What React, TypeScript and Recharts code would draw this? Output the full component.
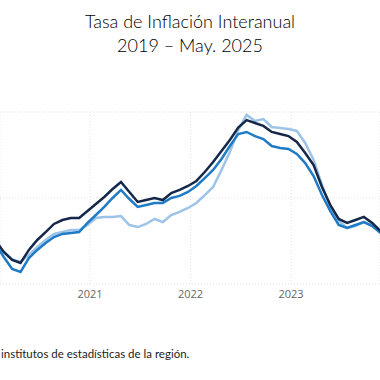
import React from 'react';
import { LineChart, Line, XAxis, YAxis, CartesianGrid } from 'recharts';

// monthly points, index 0 = Feb 2020 (visible window of the original chart)
const seriesDark = [
  2.56, 1.86, 1.4, 1.22, 1.98, 2.56, 3.02, 3.49, 3.72, 3.84, 3.84,
  4.24, 4.65, 5.06, 5.52, 5.93, 5.35, 4.77, 4.88, 5.0, 4.88, 5.29, 5.47,
  5.7, 5.99, 6.51, 7.09, 7.73, 8.37, 9.1, 9.53, 9.36, 9.19, 8.84, 8.72, 8.6,
  8.26, 7.62, 6.92, 5.64, 4.59, 3.78, 3.55, 3.72, 3.9, 3.55, 3.08,
];
const seriesMid = [
  2.33, 1.57, 0.87, 0.7, 1.51, 1.98, 2.38, 2.73, 2.91, 2.97, 3.02,
  3.55, 4.01, 4.48, 5.0, 5.47, 4.94, 4.48, 4.59, 4.71, 4.71, 5.0, 5.12,
  5.35, 5.7, 6.16, 6.63, 7.27, 8.02, 8.72, 8.84, 8.6, 8.43, 8.02, 7.91, 7.85,
  7.56, 7.03, 6.28, 5.17, 4.24, 3.43, 3.26, 3.43, 3.6, 3.37, 2.97,
];
const seriesLight = [
  2.33, 1.86, 1.45, 1.28, 1.69, 2.15, 2.56, 2.91, 3.02, 3.14, 3.14,
  3.43, 3.84, 3.9, 3.9, 3.95, 3.43, 3.31, 3.49, 3.78, 3.6, 4.01, 4.19,
  4.42, 4.71, 5.17, 5.64, 6.63, 7.67, 8.95, 9.83, 9.48, 9.59, 9.13, 9.07, 9.01,
  8.9, 8.2, 7.21, 5.76, 4.48, 3.66, 3.26, 3.37, 3.6, 3.43, 2.97,
];

const yearTicks = [12.3, 24.3, 36.3];
const yearLabels = ['2021', '2022', '2023'];
const valueTicks = [0, 5, 10];

const data = seriesDark.map((v, i) => ({
  t: i + 1,
  dark: v,
  mid: seriesMid[i],
  light: seriesLight[i],
}));

const App: React.FC = () => {
  return (
    <div style={{ position: 'absolute', left: 0, top: 0, width: 380, height: 380, overflow: 'hidden', background: '#fff' }}>
      <div
        style={{
          position: 'absolute', top: 9, left: 0, width: 380, textAlign: 'center',
          fontFamily: 'Lato, sans-serif', fontSize: 18, fontWeight: 300, lineHeight: '24px', color: '#000',
        }}
      >
        Tasa de Inflación Interanual
        <br />
        2019 – May. 2025
      </div>
      <LineChart width={380} height={380} data={data} margin={{ top: 112, right: 0, left: 0, bottom: 72 }}>
        <CartesianGrid stroke="#e2e2e2" strokeDasharray="1 2" />
        <XAxis
          dataKey="t"
          type="number"
          domain={[1.55, 46.93]}
          allowDataOverflow
          ticks={yearTicks}
          tickFormatter={(v: number) => yearLabels[yearTicks.indexOf(v)]}
          axisLine={false}
          tickLine={false}
          tickSize={4}
          tickMargin={2}
          height={24}
          tick={{ fontSize: 11, fill: '#666', fontFamily: '"Open Sans", sans-serif' }}
        />
        <YAxis hide domain={[0, 10]} ticks={valueTicks} allowDataOverflow />
        <Line type="linear" dataKey="light" stroke="#9dc3e8" strokeWidth={2.5} dot={false} isAnimationActive={false} />
        <Line type="linear" dataKey="mid" stroke="#1f7bc6" strokeWidth={2.5} dot={false} isAnimationActive={false} />
        <Line type="linear" dataKey="dark" stroke="#15284a" strokeWidth={2.5} dot={false} isAnimationActive={false} />
      </LineChart>
      <div
        style={{
          position: 'absolute', top: 347, left: 1, fontFamily: 'Lato, sans-serif',
          fontSize: 11.5, color: '#222', whiteSpace: 'nowrap',
        }}
      >
        institutos de estadísticas de la región.
      </div>
    </div>
  );
};

export default App;
